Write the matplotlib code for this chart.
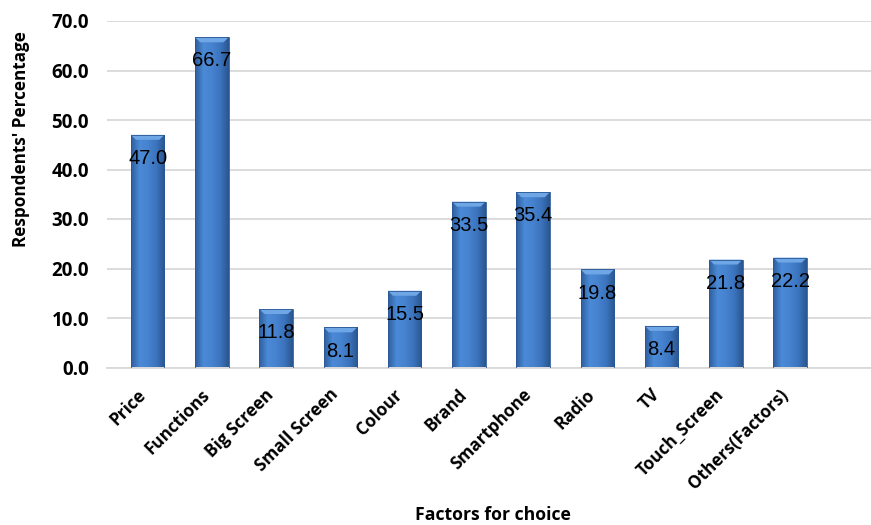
import numpy as np
import matplotlib.pyplot as plt
from matplotlib.colors import LinearSegmentedColormap
from matplotlib.transforms import ScaledTranslation

factors = ['Price', 'Functions', 'Big Screen', 'Small Screen', 'Colour', 'Brand',
           'Smartphone', 'Radio', 'TV', 'Touch_Screen', 'Others(Factors)']
percent = [47.0, 66.7, 11.8, 8.1, 15.5, 33.5, 35.4, 19.8, 8.4, 21.8, 22.2]
yticks = [0, 10, 20, 30, 40, 50, 60, 70]

fig = plt.figure(figsize=(8.71, 5.25), dpi=100)
ax = fig.add_axes([0.123, 0.30, 0.877, 0.66])

x = np.arange(len(factors))
bars = ax.bar(x, percent, width=0.52, color='none', edgecolor='#2B5894', linewidth=0.6, zorder=3)

# cylinder-like shading across each bar
cmap = LinearSegmentedColormap.from_list('barshade', ['#2E5E9E', '#4B8AD6', '#4682CF', '#3B74BD', '#2A5691'])
grad = np.linspace(0, 1, 64).reshape(1, -1)
for b in bars:
    bx, by, bw, bh = b.get_x(), b.get_y(), b.get_width(), b.get_height()
    im = ax.imshow(grad, cmap=cmap, aspect='auto', extent=(bx, bx + bw, by, by + bh), zorder=2)
    im.set_clip_path(b)
    # light top bevel
    ax.fill([bx, bx + bw, bx + bw * 0.85, bx + bw * 0.15], [by + bh, by + bh, by + bh - 1.0, by + bh - 1.0],
            color='#6FA6E6', zorder=2.5, lw=0)

for xi, v in zip(x, percent):
    ax.annotate(f'{v:.1f}', (xi, v), xytext=(0, -17), textcoords='offset points',
                ha='center', va='center', fontsize=14.5, family='Liberation Sans', zorder=4)

ax.set_xlim(-0.63, 11.26)
ax.set_ylim(0, 70)
ax.set_yticks(yticks)
ax.set_yticklabels([f'{t:.1f}' for t in yticks], fontsize=13.5, fontweight='bold', family='Open Sans')
ax.yaxis.grid(True, color='#D9D9D9', linewidth=1.3, zorder=0)
ax.set_axisbelow(True)
ax.set_xticks(x)
ax.set_xticklabels(factors, rotation=45, ha='right', rotation_mode='anchor',
                   fontsize=12.3, fontweight='bold', family='Open Sans')
ax.tick_params(axis='x', length=0, pad=13)
ax.tick_params(axis='y', length=0, pad=13)
for lbl in ax.get_xticklabels():
    lbl.set_transform(lbl.get_transform() + ScaledTranslation(-8 / 72, 0, fig.dpi_scale_trans))
for s in ['top', 'right', 'left']:
    ax.spines[s].set_visible(False)
ax.spines['bottom'].set_color('#D9D9D9')
ax.spines['bottom'].set_linewidth(1.3)

fig.text(0.024, 0.735, "Respondents' Percentage", rotation=90, ha='center', va='center',
         fontsize=12.3, fontweight='bold', family='Open Sans')
fig.text(0.566, 0.019, 'Factors for choice', ha='center', va='center',
         fontsize=12.7, fontweight='bold', family='Open Sans')

fig.savefig('out.png', dpi=100)
